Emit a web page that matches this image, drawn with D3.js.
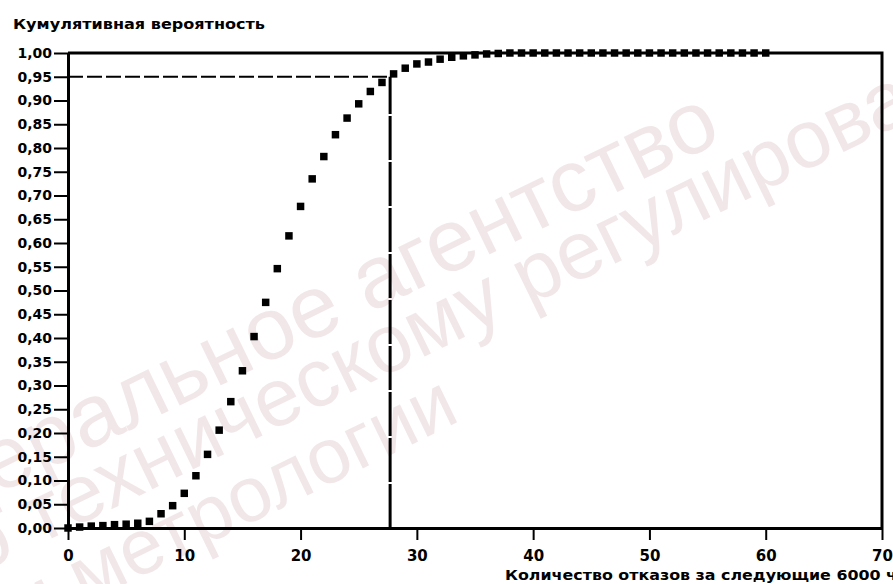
<!DOCTYPE html>
<html lang="ru">
<head>
<meta charset="utf-8">
<script src="https://cdn.jsdelivr.net/npm/d3@7"></script>
<style>
  html, body { margin: 0; padding: 0; background: #fff; }
  svg { display: block; }
  text { font-family: "DejaVu Sans", "Liberation Sans", sans-serif; font-weight: bold; fill: #000; }
  .wm text { font-family: "Liberation Sans", Arial, sans-serif; font-weight: normal; fill: #f1e7e9; }
</style>
</head>
<body>
<script>
// Number of failures (next 6000 h) and cumulative probability
const failures = d3.range(0, 61);
const cumProb = [
  0.000, 0.002, 0.004, 0.005, 0.007, 0.008, 0.010, 0.014, 0.030, 0.047,
  0.073, 0.110, 0.155, 0.206, 0.266, 0.331, 0.403, 0.475, 0.546, 0.615,
  0.677, 0.735, 0.782, 0.828, 0.863, 0.893, 0.919, 0.938, 0.956, 0.968,
  0.977, 0.981, 0.987, 0.991, 0.994, 0.996, 0.998, 0.999, 1.000, 1.000,
  1.000, 1.000, 1.000, 1.000, 1.000, 1.000, 1.000, 1.000, 1.000, 1.000,
  1.000, 1.000, 1.000, 1.000, 1.000, 1.000, 1.000, 1.000, 1.000, 1.000,
  1.000
];
const xTicks = [0, 10, 20, 30, 40, 50, 60, 70];
const yTicks = d3.range(0, 21).map(i => i * 0.05);

// 95 % level and the failure count where it is reached
const pLevel = 0.95;
const xLevel = 27.7;

const yTitle = "Кумулятивная вероятность";
const xTitle = "Количество отказов за следующие 6000 ч";
const watermark = ["Федеральное агентство", "по техническому регулированию", "и метрологии"];

const W = 893, H = 584;
const svg = d3.select("body").append("svg").attr("width", W).attr("height", H);

// faint background stamp, each line anchored at its end
const wmEnds = [[724, 140], [1055, 49], [462, 420]];
const wmSizes = [88, 82, 78];
svg.append("g").attr("class", "wm").selectAll("text").data(watermark).join("text")
  .attr("transform", (d, i) => `translate(${wmEnds[i][0]},${wmEnds[i][1]}) rotate(-26)`)
  .attr("text-anchor", "end")
  .attr("font-size", (d, i) => wmSizes[i])
  .text(d => d);

const x = d3.scaleLinear().domain([0, 70]).range([68, 882]);
const y = d3.scaleLinear().domain([0, 1]).range([528, 53]);

// frame: top and right sides of the plot box
svg.append("path")
  .attr("d", `M${x(0)},${y(1)}H${x(70)}V${y(0)}`)
  .attr("fill", "none").attr("stroke", "#000").attr("stroke-width", 3);

// axes
const fmt = d => d3.format(".2f")(d).replace(".", ",");
const gy = svg.append("g").attr("transform", `translate(${x(0)},0)`)
  .call(d3.axisLeft(y).tickValues(yTicks).tickFormat(fmt).tickSize(14).tickSizeOuter(0).tickPadding(2));
const gx = svg.append("g").attr("transform", `translate(0,${y(0)})`)
  .call(d3.axisBottom(x).tickValues(xTicks).tickSize(12).tickSizeOuter(0).tickPadding(10));

[gx, gy].forEach(g => {
  g.select(".domain").attr("stroke", "#000").attr("stroke-width", 3);
  g.selectAll(".tick line").attr("stroke", "#000").attr("stroke-width", 2);
});
gy.selectAll(".tick text").attr("font-size", 14).attr("font-family", "DejaVu Sans").attr("font-weight", "bold").attr("fill", "#000");
gx.selectAll(".tick text").attr("font-size", 15).attr("font-family", "DejaVu Sans").attr("font-weight", "bold").attr("fill", "#000");

// reference lines
svg.append("line")
  .attr("x1", x(0)).attr("x2", x(xLevel)).attr("y1", y(pLevel)).attr("y2", y(pLevel))
  .attr("stroke", "#000").attr("stroke-width", 2).attr("stroke-dasharray", "15,4");
svg.append("line")
  .attr("x1", x(xLevel)).attr("x2", x(xLevel)).attr("y1", y(0)).attr("y2", y(pLevel))
  .attr("stroke", "#000").attr("stroke-width", 3).attr("stroke-dasharray", "44,2");

// points
const sym = d3.symbol().type(d3.symbolSquare).size(56);
svg.append("g").selectAll("path").data(failures).join("path")
  .attr("transform", (d, i) => `translate(${x(d)},${y(cumProb[i])})`)
  .attr("d", sym).attr("fill", "#000");

// titles
svg.append("text").attr("x", 13).attr("y", 29).attr("font-size", 14)
  .attr("textLength", 252).attr("lengthAdjust", "spacingAndGlyphs").text(yTitle);
svg.append("text").attr("x", 505).attr("y", 580).attr("font-size", 14)
  .attr("textLength", 392).attr("lengthAdjust", "spacingAndGlyphs").text(xTitle);
</script>
</body>
</html>
